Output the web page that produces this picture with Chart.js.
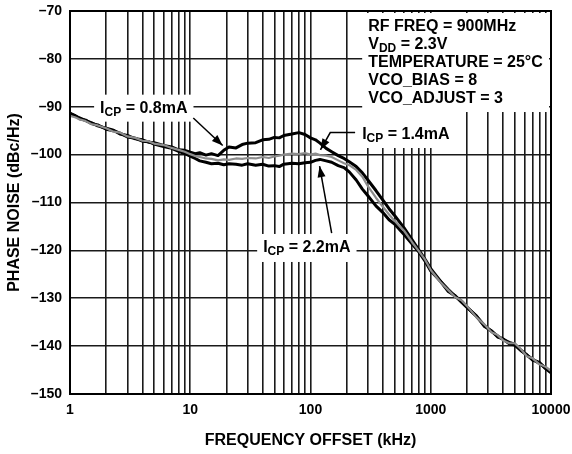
<!DOCTYPE html>
<html>
<head>
<meta charset="utf-8">
<script src="https://cdn.jsdelivr.net/npm/chart.js@4.4.1/dist/chart.umd.min.js"></script>
<style>
  html, body { margin: 0; background: #fff; }
  canvas { display: block; }
</style>
</head>
<body>
<canvas id="chart" width="572" height="454"></canvas>
<script>
// ====== Datos ======
const freqKHz = [1, 1.1, 1.2, 1.35, 1.5, 1.7, 2, 2.3, 2.6, 3, 3.5, 4, 4.5, 5, 6, 7, 8, 9, 10, 11, 12, 13.5, 15, 17, 19, 21, 24, 27, 30, 35, 40, 45, 50, 55, 60, 70, 80, 90, 100, 110, 120, 135, 150, 170, 190, 210, 240, 270, 300, 350, 400, 450, 500, 600, 700, 800, 900, 1000, 1200, 1400, 1600, 1800, 2000, 2400, 2800, 3200, 3600, 4000, 4500, 5000, 5600, 6300, 7000, 8000, 9000, 10000];

const icp08 = [-91.3, -91.9, -92.3, -92.9, -93.3, -94.0, -94.5, -94.9, -95.7, -96.0, -96.7, -96.9, -97.4, -97.5, -98.1, -98.4, -99.0, -99.1, -99.5, -99.8, -99.6, -100.1, -99.8, -100.2, -99.1, -98.4, -98.6, -97.9, -97.6, -97.5, -96.9, -96.8, -96.4, -96.5, -96.0, -95.7, -95.4, -95.8, -96.5, -96.9, -97.6, -98.7, -99.4, -100.2, -100.8, -101.5, -102.5, -103.8, -105.3, -107.5, -109.5, -111.3, -112.7, -115.3, -117.8, -120.0, -121.9, -123.8, -126.4, -128.2, -129.6, -130.6, -131.8, -133.8, -135.7, -136.9, -137.9, -138.6, -139.2, -139.6, -140.8, -141.9, -142.7, -143.6, -144.5, -145.4];

const icp14 = [-91.9, -92.2, -92.6, -93.0, -93.6, -93.9, -94.5, -95.2, -95.4, -96.2, -96.5, -97.1, -97.2, -97.7, -98.0, -98.6, -99.0, -99.4, -99.9, -100.3, -100.5, -100.8, -100.9, -101.2, -101.0, -101.1, -100.8, -100.9, -100.7, -100.8, -100.5, -100.7, -100.4, -100.2, -100.0, -99.8, -99.9, -99.7, -100.0, -99.8, -100.1, -100.2, -100.5, -101.2, -101.8, -102.2, -103.2, -104.6, -106.6, -109.0, -110.9, -112.5, -113.8, -115.9, -118.3, -120.2, -122.0, -124.1, -126.6, -128.3, -129.8, -130.4, -131.6, -134.0, -135.5, -137.1, -137.7, -138.8, -139.4, -139.4, -140.6, -142.1, -142.5, -143.8, -144.3, -145.2];

const icp22 = [-91.5, -91.8, -92.5, -92.8, -93.5, -93.8, -94.7, -95.0, -95.5, -96.3, -96.6, -97.2, -97.3, -97.8, -98.3, -98.7, -99.3, -99.8, -100.3, -100.8, -101.3, -101.6, -101.9, -101.8, -102.1, -101.9, -102.0, -102.2, -101.9, -102.2, -102.0, -102.4, -102.3, -102.5, -102.0, -101.8, -101.9, -101.7, -101.6, -101.2, -101.0, -101.3, -101.6, -102.3, -102.7, -103.6, -105.3, -107.2, -108.6, -110.7, -112.1, -113.6, -114.5, -116.7, -118.7, -120.4, -122.3, -124.3, -126.4, -128.6, -129.5, -130.8, -131.9, -133.7, -135.9, -136.8, -138.1, -138.5, -139.5, -139.8, -140.9, -141.8, -142.9, -143.4, -144.7, -145.6];

const xTickLabels = ['1', '10', '100', '1000', '10000'];
const yTickLabels = ['–150', '–140', '–130', '–120', '–110', '–100', '–90', '–80', '–70'];
const yTickValues = [-150, -140, -130, -120, -110, -100, -90, -80, -70];

// ====== Anotaciones (coordenadas en kHz / dBc/Hz) ======
const notes = [
  { runs: [['I'], ['CP', 1], [' = 0.8mA']], f: 1.78, db: -90.4, padTop: 14, padBottom: 13,
    arrow: [[10.6, -92.35], [18.6, -98.1]] },
  { runs: [['I'], ['CP', 1], [' = 1.4mA']], f: 269, db: -95.9, padTop: 23, padBottom: 13,
    arrow: [[235, -95.4], [146, -95.4], [121, -99.0]] },
  { runs: [['I'], ['CP', 1], [' = 2.2mA']], f: 40.4, db: -119.5, padTop: 14, padBottom: 14,
    arrow: [[150, -116.4], [119, -102.4]] }
];
const paramLines = [
  [['RF FREQ = 900MHz']],
  [['V'], ['DD', 1], [' = 2.3V']],
  [['TEMPERATURE = 25°C']],
  [['VCO_BIAS = 8']],
  [['VCO_ADJUST = 3']]
];
const paramBox = { f: 269, textF: 302, firstDb: -73.3, bottomDb: -91.1 };

const FONT = '"Liberation Sans", Arial, Helvetica, sans-serif';
const mainFont = `bold 16px ${FONT}`;
const subFont  = `bold 12px ${FONT}`;

function runsWidth(ctx, runs) {
  let w = 0;
  runs.forEach(([t, sub]) => { ctx.font = sub ? subFont : mainFont; w += ctx.measureText(t).width; });
  return w;
}

function drawRuns(ctx, runs, x, y) {
  ctx.textAlign = 'left';
  ctx.textBaseline = 'middle';
  ctx.fillStyle = '#000';
  runs.forEach(([t, sub]) => {
    ctx.font = sub ? subFont : mainFont;
    ctx.fillText(t, x, sub ? y + 4 : y);
    x += ctx.measureText(t).width;
  });
}

function drawArrow(ctx, pts) {
  ctx.save();
  ctx.strokeStyle = '#000';
  ctx.fillStyle = '#000';
  ctx.lineWidth = 1.5;
  ctx.beginPath();
  pts.forEach(([x, y], i) => i ? ctx.lineTo(x, y) : ctx.moveTo(x, y));
  const [x1, y1] = pts[pts.length - 2];
  const [x2, y2] = pts[pts.length - 1];
  const a = Math.atan2(y2 - y1, x2 - x1);
  const L = 11, W = 4;
  const bx = x2 - L * Math.cos(a), by = y2 - L * Math.sin(a);
  ctx.stroke();
  ctx.beginPath();
  ctx.moveTo(x2, y2);
  ctx.lineTo(bx + W * Math.sin(a), by - W * Math.cos(a));
  ctx.lineTo(bx - W * Math.sin(a), by + W * Math.cos(a));
  ctx.closePath();
  ctx.fill();
  ctx.restore();
}

const annotations = {
  id: 'annotations',
  beforeDatasetsDraw(chart) {
    const { ctx, chartArea: a, scales: { x, y } } = chart;
    ctx.save();
    ctx.fillStyle = '#fff';
    // recuadro de parámetros
    const px = x.getPixelForValue(paramBox.f);
    ctx.fillRect(px, a.top + 2, a.right - 2 - px, y.getPixelForValue(paramBox.bottomDb) - a.top - 2);
    // recuadros de etiquetas
    notes.forEach(n => {
      const tx = x.getPixelForValue(n.f), ty = y.getPixelForValue(n.db);
      const w = runsWidth(ctx, n.runs);
      ctx.fillStyle = '#fff';
      ctx.fillRect(tx - 6, ty - n.padTop, w + 12, n.padTop + n.padBottom);
    });
    ctx.restore();
  },
  afterDatasetsDraw(chart) {
    const { ctx, chartArea: a, scales: { x, y } } = chart;
    ctx.save();
    const tx = x.getPixelForValue(paramBox.textF);
    const ty = y.getPixelForValue(paramBox.firstDb);
    paramLines.forEach((runs, i) => drawRuns(ctx, runs, tx, ty + i * 17.9));
    notes.forEach(n => {
      drawRuns(ctx, n.runs, x.getPixelForValue(n.f), y.getPixelForValue(n.db));
      drawArrow(ctx, n.arrow.map(([f, d]) => [x.getPixelForValue(f), y.getPixelForValue(d)]));
    });
    // marco
    ctx.strokeStyle = '#000';
    ctx.lineWidth = 2;
    ctx.strokeRect(a.left, a.top, a.right - a.left, a.bottom - a.top);
    ctx.restore();
  }
};

// ====== Chart ======
const toXY = (vals) => vals.map((v, i) => ({ x: freqKHz[i], y: v }));
const gridStyle = { color: '#1a1a1a', lineWidth: 1.6, drawTicks: false };

new Chart(document.getElementById('chart'), {
  type: 'line',
  data: {
    datasets: [
      { label: 'ICP = 1.4mA', data: toXY(icp14), borderColor: '#8c8c8c', borderWidth: 2.2 },
      { label: 'ICP = 2.2mA', data: toXY(icp22), borderColor: '#000', borderWidth: 3 },
      { label: 'ICP = 0.8mA', data: toXY(icp08), borderColor: '#000', borderWidth: 3 }
    ]
  },
  options: {
    responsive: false,
    animation: false,
    devicePixelRatio: 1,
    layout: { padding: { top: 11, right: 21, left: 0, bottom: 0 } },
    elements: { point: { radius: 0 }, line: { tension: 0, borderJoinStyle: 'round' } },
    plugins: { legend: { display: false }, tooltip: { enabled: false } },
    scales: {
      x: {
        type: 'logarithmic',
        min: 1, max: 10000,
        afterBuildTicks: (s) => {
          const vals = [];
          [1, 10, 100, 1000].forEach(d => { for (let m = 1; m < 10; m++) vals.push(d * m); });
          vals.push(10000);
          s.ticks = vals.map(v => ({ value: v }));
        },
        afterFit: (s) => { s.height = 60; s.paddingLeft = 0; s.paddingRight = 0; },
        grid: gridStyle,
        border: { color: '#000', width: 2 },
        ticks: {
          autoSkip: false, maxRotation: 0, padding: 8, color: '#000',
          font: { family: FONT, size: 14, weight: 'bold' },
          callback: (v) => xTickLabels.includes(String(v)) ? String(v) : ''
        },
        title: {
          display: true, text: 'FREQUENCY OFFSET (kHz)', color: '#000',
          font: { family: FONT, size: 16, weight: 'bold' },
          padding: { top: 0, bottom: 4 }
        }
      },
      y: {
        min: -150, max: -70,
        afterBuildTicks: (s) => { s.ticks = yTickValues.map(v => ({ value: v })); },
        afterFit: (s) => { s.width = 70; s.paddingTop = 0; s.paddingBottom = 0; },
        grid: gridStyle,
        border: { color: '#000', width: 2 },
        ticks: {
          padding: 8, color: '#000',
          font: { family: FONT, size: 14, weight: 'bold' },
          callback: (v) => yTickLabels[yTickValues.indexOf(v)] ?? ''
        },
        title: {
          display: true, text: 'PHASE NOISE (dBc/Hz)', color: '#000',
          font: { family: FONT, size: 16, weight: 'bold' },
          padding: { top: 5, bottom: 0 }
        }
      }
    }
  },
  plugins: [annotations]
});
</script>
</body>
</html>
